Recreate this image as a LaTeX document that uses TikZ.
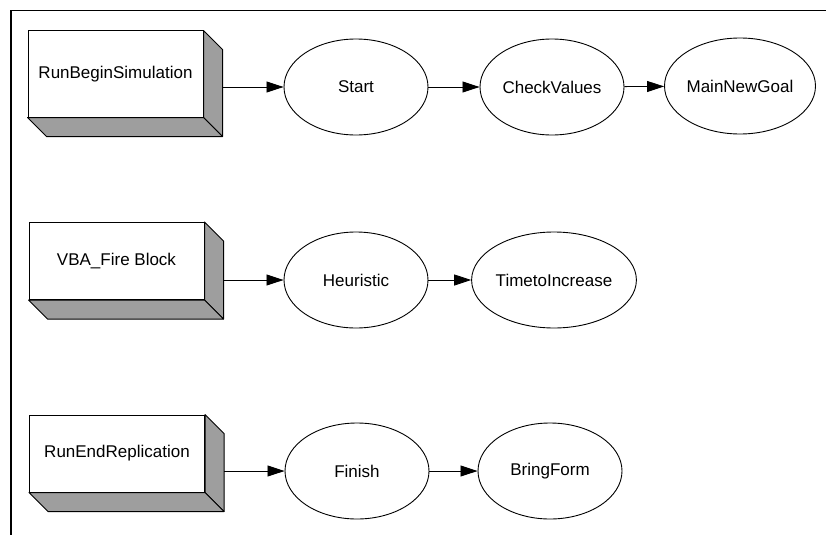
\documentclass[tikz,border=0pt]{standalone}
\usepackage{fontspec}
\setmainfont{Liberation Sans}
\usetikzlibrary{shapes.geometric,arrows.meta,calc}
\begin{document}
\begin{tikzpicture}[x=1pt,y=-1pt,
  label font/.style={font=\fontsize{17}{20}\selectfont},
  block/.style={draw, fill=white, line width=1pt, minimum width=175pt,
    inner sep=0pt, label font},
  proc/.style={draw, ellipse, line width=0.9pt, minimum width=144pt,
    minimum height=96pt, inner sep=0pt, label font},
  flow/.style={line width=0.8pt, -{Triangle[length=17pt,width=11pt]}},
  side/.style={draw, fill=black!38, line width=1pt, line join=round}]
\useasboundingbox (0,0) rectangle (826,535);

% frame
\draw[line width=1.4pt] (826,10.5) -- (11,10.5) -- (11,535);

% event blocks (front faces)
\node[block, minimum height=86pt] (b1) at (115.5,74)  {RunBeginSimulation};
\node[block, minimum height=77pt] (b2) at (116.5,261) {VBA\_Fire Block};
\node[block, minimum height=77pt] (b3) at (117,453.5) {RunEndReplication};

% shaded depth faces of the blocks
\foreach \b in {b1,b2,b3} {
  \draw[side] (\b.north east) -- ($(\b.north east)+(19,19)$)
    -- ($(\b.south east)+(19,19)$) -- (\b.south east) -- cycle;
  \draw[side] (\b.south west) -- ($(\b.south west)+(19,19)$)
    -- ($(\b.south east)+(19,19)$) -- (\b.south east) -- cycle;
  \coordinate (\b x) at ($(\b.east)+(19,0)$);
}

% procedures
\node[proc] (s1) at (356,87)  {Start};
\node[proc] (c1) at (552,87)  {CheckValues};
\node[proc] (m1) at (740,86)  {MainNewGoal};

\node[proc] (h2) at (356,280) {Heuristic};
\node[proc] (t2) at (554,280) {TimetoIncrease};

\node[proc] (f3) at (357,471) {Finish};
\node[proc] (g3) at (550,471) {BringForm};

% connectors
\draw[flow] (b1x |- s1) -- (s1.west);
\draw[flow] (s1) -- (c1);
\draw[flow] (c1) -- (m1);

\draw[flow] (b2x |- h2) -- (h2.west);
\draw[flow] (h2) -- (t2);

\draw[flow] (b3x |- f3) -- (f3.west);
\draw[flow] (f3) -- (g3);
\end{tikzpicture}
\end{document}
